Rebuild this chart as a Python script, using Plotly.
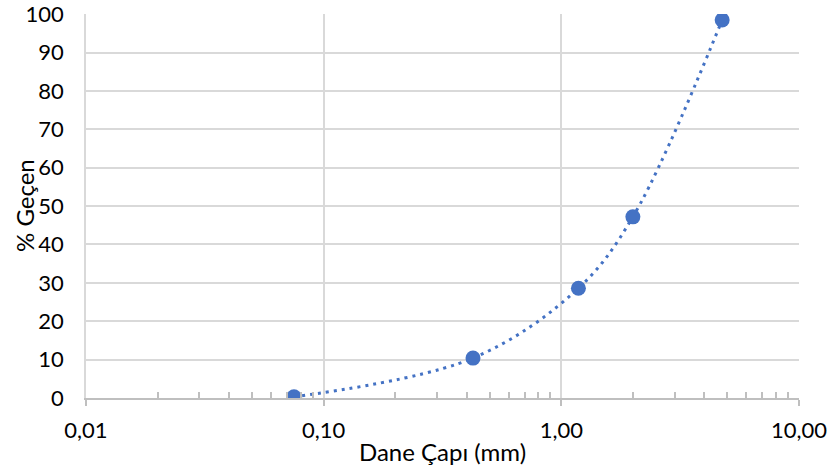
import plotly.graph_objects as go

# Data
sieve_mm = [0.075, 0.425, 1.18, 2.0, 4.75]
passing_pct = [0.3, 10.4, 28.6, 47.2, 98.5]

x_tick_vals = [0.01, 0.1, 1, 10]
x_tick_text = ["0,01", "0,10", "1,00", "10,00"]
decades = [0.01, 0.1, 1]
minor_vals = [d * k for d in decades for k in range(2, 10)]

color = "#4472C4"
font_family = "Lato, 'Open Sans', sans-serif"

fig = go.Figure()
fig.add_trace(go.Scatter(
    x=sieve_mm, y=passing_pct,
    mode="lines+markers",
    line=dict(color=color, width=3, dash="3px,5px", shape="spline", smoothing=1.0),
    marker=dict(color=color, size=15),
    showlegend=False,
))

fig.update_layout(
    width=829, height=472,
    margin=dict(l=86, r=30, t=14, b=74),
    paper_bgcolor="white", plot_bgcolor="white",
    font=dict(family=font_family, size=22, color="#000000"),
    xaxis=dict(
        type="log", range=[-2, 1], automargin=False,
        tickmode="array", tickvals=x_tick_vals, ticktext=x_tick_text,
        showgrid=True, gridcolor="#d9d9d9", gridwidth=1.5,
        showline=True, linecolor="#bfbfbf", linewidth=1.5,
        ticks="outside", ticklen=6, tickcolor="#bfbfbf", tickwidth=1.5,
        ticklabelstandoff=6, ticklabeloverflow="allow",
        minor=dict(tickmode="array", tickvals=minor_vals, ticks="inside",
                   ticklen=6, tickcolor="#bfbfbf", tickwidth=1.5, showgrid=False),
        title=dict(text="Dane Çapı (mm)", standoff=2, font=dict(size=24)),
        zeroline=False, mirror=False,
    ),
    yaxis=dict(
        range=[0, 100.05], dtick=10, automargin=False,
        showgrid=True, gridcolor="#d9d9d9", gridwidth=1.5,
        showline=True, linecolor="#d9d9d9", linewidth=1.5,
        ticks="", ticklabelstandoff=16, ticklabeloverflow="allow",
        zeroline=False,
    ),
    annotations=[dict(
        text="% Geçen", textangle=-90, showarrow=False,
        xref="paper", yref="paper", x=(24 - 86) / 713, y=0.5,
        xanchor="center", yanchor="middle",
        font=dict(family=font_family, size=24, color="#000000"),
    )],
)

fig.write_html("out.html")
